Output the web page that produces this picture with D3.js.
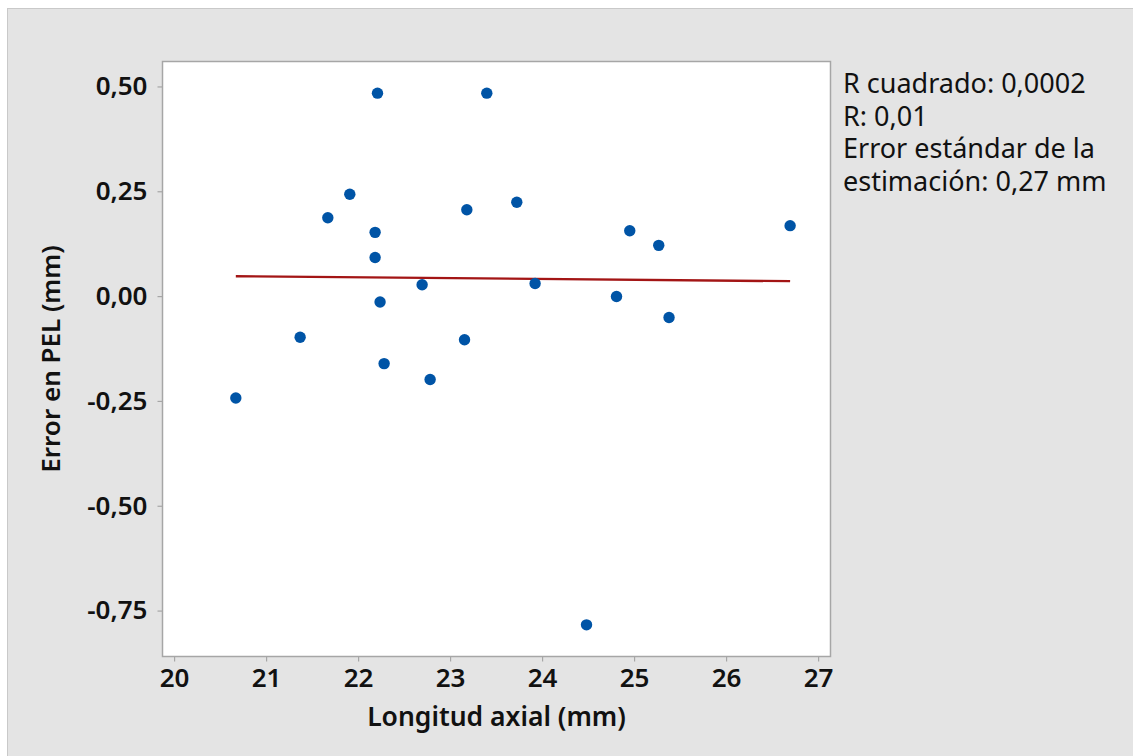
<!DOCTYPE html>
<html>
<head>
<meta charset="utf-8">
<script src="https://cdn.jsdelivr.net/npm/d3@7"></script>
<style>
  html, body { margin: 0; padding: 0; background: #ffffff; }
  svg { display: block; }
  text { font-family: "Noto Sans", "Open Sans", sans-serif; fill: #111; }
</style>
</head>
<body>
<script>
// Axial length (mm) of each eye and the corresponding error in PEL (mm)
const longitudAxial = [20.671, 21.370, 21.671, 21.910, 22.185, 22.185, 22.211, 22.239, 22.283, 22.696, 22.783,
                       23.157, 23.182, 23.399, 23.725, 23.924, 24.483, 24.809, 24.953, 25.268, 25.380, 26.696];
const errorPEL = [-0.243, -0.098, 0.187, 0.243, 0.152, 0.092, 0.484, -0.014, -0.161, 0.027, -0.199,
                  -0.104, 0.206, 0.484, 0.224, 0.030, -0.784, -0.001, 0.156, 0.121, -0.051, 0.168];

// Fitted regression line, evaluated at the ends of the observed range
const ajusteX = [20.671, 26.696];
const ajusteY = [0.0474, 0.0355];

// Axis ticks
const xTicks = [20, 21, 22, 23, 24, 25, 26, 27];
const yTicks = [0.50, 0.25, 0.00, -0.25, -0.50, -0.75];

// Regression summary
const resumen = ["R cuadrado: 0,0002", "R: 0,01", "Error estándar de la", "estimación: 0,27 mm"];

const W = 1133, H = 756;
const frame = { left: 162.5, top: 61.5, right: 830.5, bottom: 656.5 };

const svg = d3.select("body").append("svg").attr("width", W).attr("height", H);

// Gray page panel
svg.append("rect").attr("x", 7.5).attr("y", 8.5).attr("width", W).attr("height", H)
  .attr("fill", "#e4e4e4").attr("stroke", "#c9c9c9").attr("stroke-width", 1);

const x = d3.scaleLinear().domain([19.874, 27.135]).range([frame.left, frame.right]);
const y = d3.scaleLinear().domain([-0.8595, 0.5595]).range([frame.bottom, frame.top]);

// Plot area
svg.append("rect").attr("x", frame.left).attr("y", frame.top)
  .attr("width", frame.right - frame.left).attr("height", frame.bottom - frame.top)
  .attr("fill", "#ffffff").attr("stroke", "#a6a6a6").attr("stroke-width", 1.5);

const fmt = v => d3.format(".2f")(v).replace(".", ",").replace("−", "-");

const xAxis = svg.append("g").attr("transform", `translate(0,${frame.bottom})`)
  .call(d3.axisBottom(x).tickValues(xTicks).tickSize(5).tickPadding(4).tickFormat(d3.format("d")));
const yAxis = svg.append("g").attr("transform", `translate(${frame.left},0)`)
  .call(d3.axisLeft(y).tickValues(yTicks).tickSize(5).tickPadding(10).tickFormat(fmt));

[xAxis, yAxis].forEach(g => {
  g.select(".domain").remove();
  g.selectAll(".tick line").attr("stroke", "#a6a6a6").attr("stroke-width", 1.2);
  g.selectAll(".tick text").attr("font-size", 26).attr("font-weight", 600)
    .attr("font-family", "'Noto Sans', 'Open Sans', sans-serif").attr("fill", "#111");
});
xAxis.selectAll(".tick text").attr("dy", "0.83em");

// Regression line
const fitLine = d3.line().x(d => x(d[0])).y(d => y(d[1]));
svg.append("path").datum(d3.zip(ajusteX, ajusteY)).attr("d", fitLine)
  .attr("fill", "none").attr("stroke", "#a31515").attr("stroke-width", 2.3);

// Observations
svg.append("g").selectAll("circle").data(d3.zip(longitudAxial, errorPEL)).join("circle")
  .attr("cx", d => x(d[0])).attr("cy", d => y(d[1])).attr("r", 5.7)
  .attr("fill", "#0054a6");

// Axis titles
svg.append("text").attr("x", (frame.left + frame.right) / 2).attr("y", 726)
  .attr("text-anchor", "middle").attr("font-size", 26.5).attr("font-weight", 600)
  .text("Longitud axial (mm)");
svg.append("text").attr("transform", `translate(60,${(frame.top + frame.bottom) / 2}) rotate(-90)`)
  .attr("text-anchor", "middle").attr("font-size", 26).attr("font-weight", 600)
  .text("Error en PEL (mm)");

// Summary statistics, one text block with a line per statistic
svg.append("text").attr("x", 843).attr("y", 93).attr("font-size", 27)
  .selectAll("tspan").data(resumen).join("tspan")
  .attr("x", 843).attr("dy", (d, i) => i === 0 ? 0 : 32.6).text(d => d);
</script>
</body>
</html>
